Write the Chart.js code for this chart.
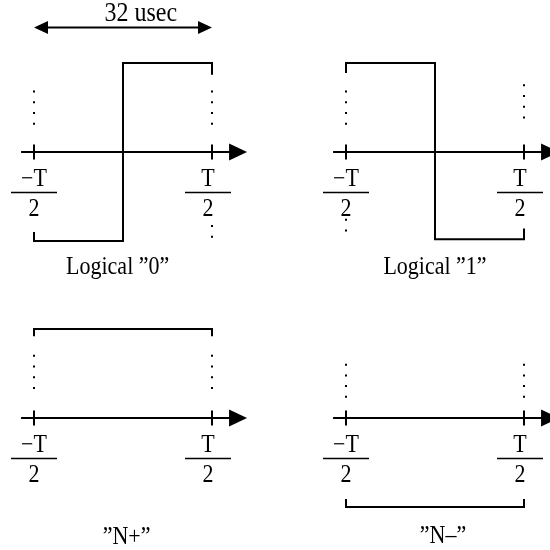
<!DOCTYPE html>
<html>
<head>
<meta charset="utf-8">
<script src="https://cdn.jsdelivr.net/npm/chart.js@4/dist/chart.umd.min.js"></script>
<style>
  html, body { margin: 0; padding: 0; background: #fff; }
  #stage { position: relative; width: 550px; height: 550px; overflow: hidden; background: #fff; }
  #stage canvas { position: absolute; }
</style>
</head>
<body>
<div id="stage"></div>
<script>
// time in units of T, level in units of the pulse amplitude
const PANEL_NAMES = ['Logical \u201D0\u201D', 'Logical \u201D1\u201D', '\u201DN+\u201D', '\u201DN\u2013\u201D'];
const TICK_T = [-0.5, 0.5];
const TICK_NUM = ['\u2212T', 'T'];
const TICK_DEN = ['2', '2'];
const WAVE_T = [
  [-0.5, -0.5, 0, 0, 0.5, 0.5],
  [-0.5, -0.5, 0, 0, 0.5, 0.5],
  [-0.5, -0.5, 0.5, 0.5],
  [-0.5, -0.5, 0.5, 0.5]
];
const WAVE_LEVEL = [
  [-0.91, -1, -1, 1, 1, 0.88],
  [0.9, 1, 1, -0.98, -0.98, -0.87],
  [0.93, 1, 1, 0.93],
  [-0.92, -1, -1, -0.92]
];
// dotted guides: [t, from level, to level]
const GUIDES = [
  [[-0.5, 0.69, 0.3], [0.5, 0.69, 0.3], [0.5, -0.82, -0.97]],
  [[-0.5, 0.69, 0.3], [-0.5, -0.75, -0.93], [0.5, 0.76, 0.36]],
  [[-0.5, 0.71, 0.32], [0.5, 0.71, 0.32]],
  [[-0.5, 0.61, 0.22], [0.5, 0.61, 0.22]]
];
const AXIS_FROM = -0.567, AXIS_TO = 0.697;
const TICK_HALF = 0.073;
const SPAN_T = [-0.5, 0.5];
const SPAN_LEVEL = 1.40;
const SPAN_LABEL = '32 usec';
const SPAN_LABEL_AT = [0.1, 1.55];
const CAPTION_T = [-0.03, 0, 0.02, 0.045];
const CAPTION_LEVEL = [-1.30, -1.30, -1.34, -1.33];

// layout
const PX_T = 178, PX_LEVEL = 89, W = 312, H = 284, AXIS_Y = 152;
const ORIGINS = [[123, 152], [435, 152], [123, 418], [435, 418]];
const FONT = '22px "Liberation Serif", "Times New Roman", serif';
const SPAN_FONT = '24px "Liberation Serif", "Times New Roman", serif';
const STRETCH = 1.1;

function text(ctx, s, x, y) {
  ctx.save();
  ctx.translate(x, y);
  ctx.scale(1, STRETCH);
  ctx.fillText(s, 0, 0);
  ctx.restore();
}

const diagram = {
  id: 'diagram',
  afterDatasetsDraw(chart, args, opts) {
    const { ctx, scales: { x, y } } = chart;
    const i = opts.panel;
    const ay = y.getPixelForValue(0);
    ctx.save();
    ctx.fillStyle = '#000';
    ctx.strokeStyle = '#000';
    ctx.lineWidth = 2;
    // arrowhead on the time axis
    const tip = x.getPixelForValue(AXIS_TO);
    ctx.beginPath();
    ctx.moveTo(tip, ay); ctx.lineTo(tip - 18, ay - 8.5); ctx.lineTo(tip - 18, ay + 8.5);
    ctx.closePath(); ctx.fill();
    // fraction labels under the ticks
    ctx.font = FONT;
    ctx.textAlign = 'center';
    ctx.textBaseline = 'middle';
    TICK_T.forEach((t, k) => {
      const cx = x.getPixelForValue(t) + (t > 0 ? -4 : 0);
      text(ctx, TICK_NUM[k], cx, ay + 28);
      text(ctx, TICK_DEN[k], cx, ay + 58);
      ctx.beginPath();
      ctx.lineWidth = 1.5;
      ctx.moveTo(cx - 23, ay + 40.5); ctx.lineTo(cx + 23, ay + 40.5);
      ctx.stroke();
    });
    text(ctx, PANEL_NAMES[i], x.getPixelForValue(CAPTION_T[i]), y.getPixelForValue(CAPTION_LEVEL[i]));
    // period marker on the first panel
    if (i === 0) {
      const sy = y.getPixelForValue(SPAN_LEVEL);
      const x0 = x.getPixelForValue(SPAN_T[0]), x1 = x.getPixelForValue(SPAN_T[1]);
      ctx.lineWidth = 2;
      ctx.beginPath(); ctx.moveTo(x0 + 10, sy); ctx.lineTo(x1 - 10, sy); ctx.stroke();
      ctx.beginPath(); ctx.moveTo(x0, sy); ctx.lineTo(x0 + 14, sy - 6.5); ctx.lineTo(x0 + 14, sy + 6.5); ctx.closePath(); ctx.fill();
      ctx.beginPath(); ctx.moveTo(x1, sy); ctx.lineTo(x1 - 14, sy - 6.5); ctx.lineTo(x1 - 14, sy + 6.5); ctx.closePath(); ctx.fill();
      ctx.font = SPAN_FONT;
      text(ctx, SPAN_LABEL, x.getPixelForValue(SPAN_LABEL_AT[0]), y.getPixelForValue(SPAN_LABEL_AT[1]));
    }
    ctx.restore();
  }
};

const solid = (data) => ({ data, showLine: true, borderColor: '#000', borderWidth: 2, pointRadius: 0, borderCapStyle: 'square', borderJoinStyle: 'miter', tension: 0 });
const dotted = (data) => ({ data, showLine: true, borderColor: '#000', borderWidth: 2, pointRadius: 0, borderDash: [2, 8.7], borderCapStyle: 'butt', tension: 0 });

const stage = document.getElementById('stage');
ORIGINS.forEach(([ox, oy], i) => {
  const cv = document.createElement('canvas');
  cv.width = W; cv.height = H;
  cv.style.left = (ox - W / 2) + 'px';
  cv.style.top = (oy - AXIS_Y) + 'px';
  stage.appendChild(cv);
  const datasets = [];
  datasets.push(solid([{ x: AXIS_FROM, y: 0 }, { x: AXIS_TO - 0.05, y: 0 }]));
  TICK_T.forEach(t => datasets.push(solid([{ x: t, y: TICK_HALF }, { x: t, y: -TICK_HALF }])));
  datasets.push(solid(WAVE_T[i].map((t, k) => ({ x: t, y: WAVE_LEVEL[i][k] }))));
  GUIDES[i].forEach(([t, a, b]) => datasets.push(dotted([{ x: t, y: a }, { x: t, y: b }])));
  new Chart(cv.getContext('2d'), {
    type: 'scatter',
    data: { datasets },
    options: {
      responsive: false,
      animation: false,
      layout: { padding: 0 },
      events: [],
      plugins: { legend: { display: false }, tooltip: { enabled: false }, diagram: { panel: i } },
      scales: {
        x: { type: 'linear', display: false, min: -W / 2 / PX_T, max: W / 2 / PX_T },
        y: { type: 'linear', display: false, min: -(H - AXIS_Y) / PX_LEVEL, max: AXIS_Y / PX_LEVEL }
      }
    },
    plugins: [diagram]
  });
});
</script>
</body>
</html>
